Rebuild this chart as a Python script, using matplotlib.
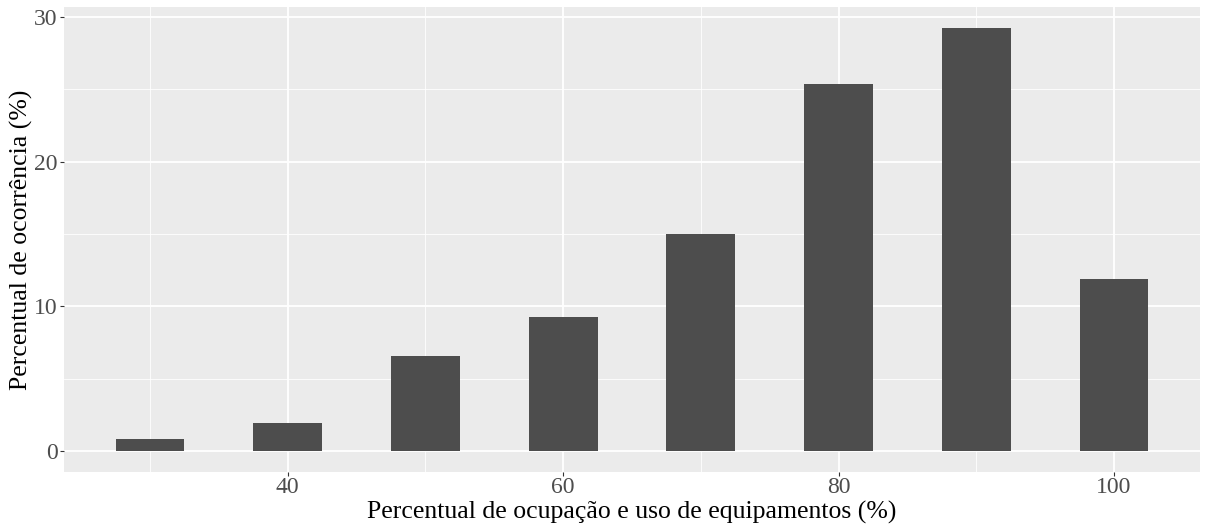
import matplotlib
matplotlib.use("Agg")
import matplotlib.pyplot as plt
import numpy as np

# Data
ocupacao = [30, 40, 50, 60, 70, 80, 90, 100]
percentual = [0.79, 1.95, 6.55, 9.24, 15.0, 25.38, 29.23, 11.89]
x_ticks = [40, 60, 80, 100]
y_ticks = [0, 10, 20, 30]
x_label = "Percentual de ocupação e uso de equipamentos (%)"
y_label = "Percentual de ocorrência (%)"

plt.rcParams['font.family'] = ['Liberation Serif', 'DejaVu Serif']

fig = plt.figure(figsize=(12.06, 5.27), dpi=100)
W, H = 1206, 527
left, right, top, bottom = 64, 1200, 7, 472
ax = fig.add_axes([left / W, 1 - bottom / H, (right - left) / W, (bottom - top) / H])
ax.set_facecolor('#EBEBEB')

ax.bar(ocupacao, percentual, width=5, color='#4D4D4D', zorder=3)

xmin, xmax = 27.5, 102.5
ex = (xmax - xmin) * 0.05
ax.set_xlim(xmin - ex, xmax + ex)
ymax = max(percentual)
ey = ymax * 0.05
ax.set_ylim(-ey, ymax + ey)

ax.set_xticks(x_ticks)
ax.set_yticks(y_ticks)
ax.set_xticks([30, 50, 70, 90], minor=True)
ax.set_yticks([5, 15, 25], minor=True)
ax.grid(which='major', color='white', linewidth=1.3, zorder=1)
ax.grid(which='minor', color='white', linewidth=0.6, zorder=1)
ax.set_axisbelow(True)
for s in ax.spines.values():
    s.set_visible(False)
ax.tick_params(which='major', length=3, width=0.8, color='#333333',
               labelsize=17, labelcolor='#4D4D4D', pad=1.5)
ax.tick_params(axis='x', which='major', pad=0.5)
ax.tick_params(which='minor', length=0)

ax.set_xlabel(x_label, fontsize=18.5, color='black', labelpad=2.5)
ax.set_ylabel(y_label, fontsize=18.5, color='black', labelpad=0.5)

fig.savefig("out.png", dpi=100)
